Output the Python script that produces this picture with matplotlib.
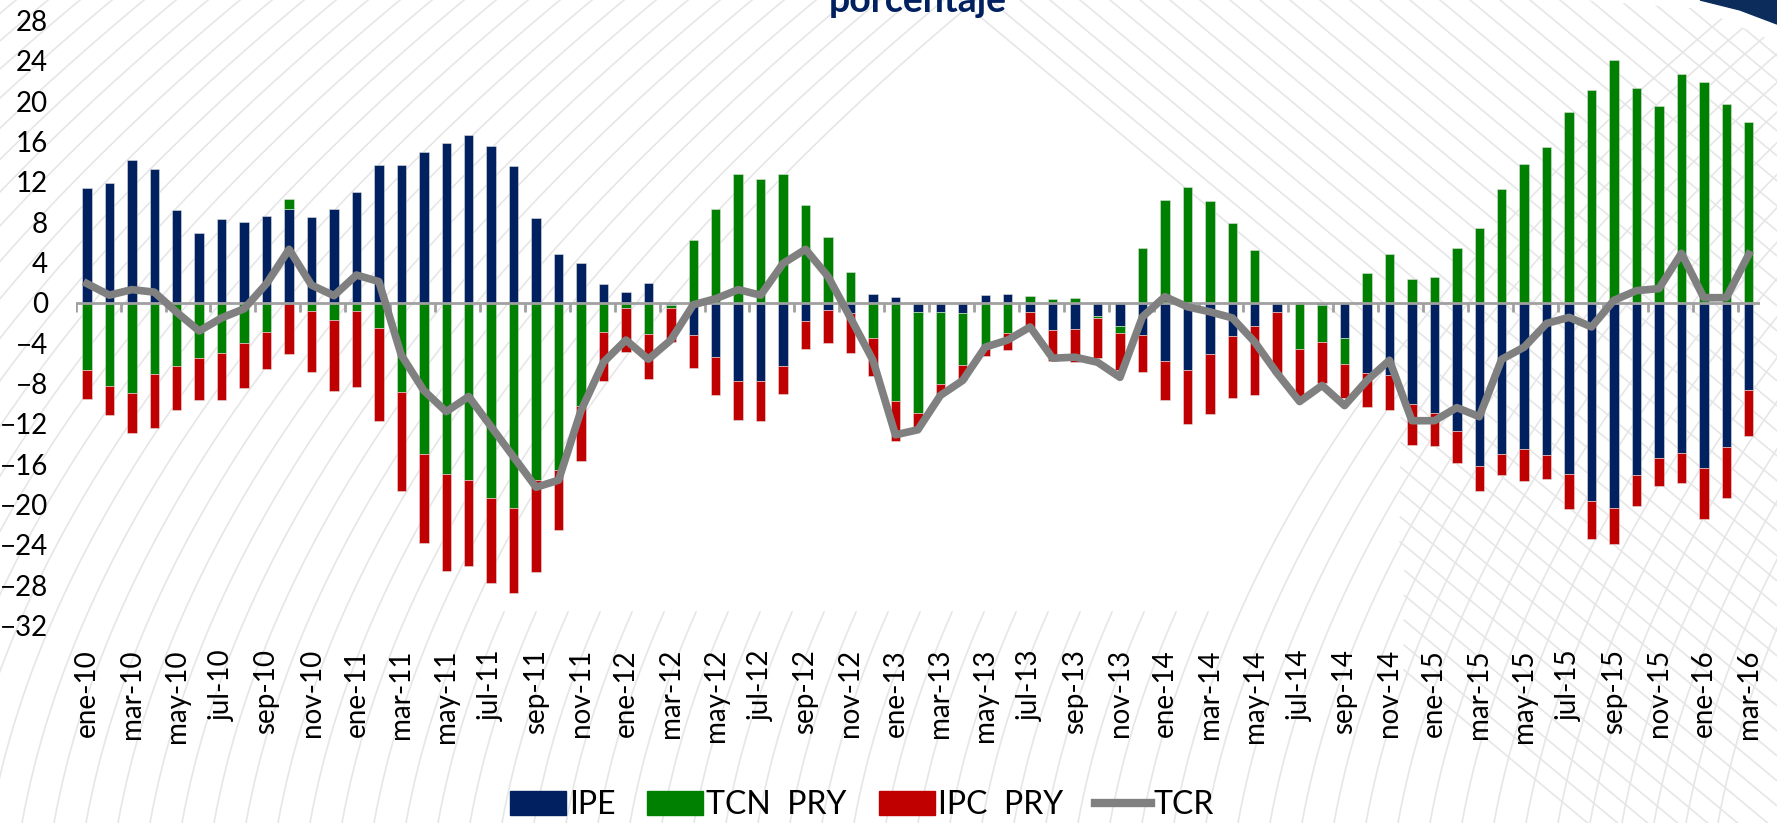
import numpy as np
import matplotlib.pyplot as plt
from matplotlib.lines import Line2D
from matplotlib.patches import Patch, Polygon

plt.rcParams['font.family'] = ['Lato', 'DejaVu Sans']

# meses ene-10 .. mar-16
meses_abr = ['ene', 'feb', 'mar', 'abr', 'may', 'jun', 'jul', 'ago', 'sep', 'oct', 'nov', 'dic']
months = [f"{m}-{y}" for y in range(10, 17) for m in meses_abr][:75]

# contribuciones (puntos porcentuales)
ipe = [11.36, 11.85, 14.14, 13.31, 9.24, 6.89, 8.28, 8.01, 8.61, 9.30,
       8.51, 9.30, 11.03, 13.68, 13.68, 14.97, 15.89, 16.62, 15.50, 13.54,
       8.44, 4.87, 3.97, 1.89, 1.06, 1.92, -0.20, -3.21, -5.43, -7.78,
       -7.78, -6.29, -1.82, -0.73, -1.06, 0.86, 0.53, -0.96, -0.96, -1.06,
       0.76, 0.86, -0.96, -2.72, -2.65, -1.32, -2.32, -3.21, -5.79, -6.69,
       -5.13, -3.28, -2.28, -0.96, 0.10, -0.23, -3.54, -6.95, -7.19, -10.00,
       -10.93, -12.75, -16.16, -15.03, -14.50, -15.07, -16.95, -19.64, -20.33, -17.05,
       -15.40, -14.90, -16.39, -14.27, -8.61]
tcn_pry = [-6.72, -8.21, -8.94, -7.02, -6.23, -5.46, -5.03, -4.01, -2.88, 0.96,
           -0.86, -1.72, -0.86, -2.55, -8.81, -15.03, -16.95, -17.55, -19.34, -20.33,
           -17.62, -16.56, -10.20, -2.95, -0.56, -3.15, -0.30, 6.23, 9.27, 12.81,
           12.28, 12.78, 9.67, 6.49, 3.05, -3.48, -9.74, -9.94, -7.05, -5.13,
           -4.37, -3.05, 0.66, 0.33, 0.50, -0.24, -0.73, 5.40, 10.20, 11.49,
           10.07, 7.95, 5.23, 0.00, -4.54, -3.71, -2.55, 2.91, 4.80, 2.32,
           2.55, 5.40, 7.45, 11.32, 13.74, 15.43, 18.91, 21.06, 24.04, 21.26,
           19.54, 22.68, 21.85, 19.70, 17.91]
ipc_pry = [-2.78, -2.95, -4.01, -5.36, -4.40, -4.21, -4.64, -4.43, -3.74, -5.10,
           -5.96, -6.99, -7.52, -9.14, -9.83, -8.78, -9.67, -8.51, -8.41, -8.48,
           -9.04, -5.96, -5.50, -4.83, -4.30, -4.37, -3.40, -3.31, -3.68, -3.84,
           -3.94, -2.75, -2.72, -3.31, -3.97, -3.80, -4.00, -1.43, -1.10, -1.49,
           -0.93, -1.65, -1.42, -3.07, -3.21, -3.97, -3.64, -3.64, -3.88, -5.30,
           -5.93, -6.16, -6.83, -6.00, -4.80, -4.06, -3.40, -3.38, -3.47, -4.07,
           -3.31, -3.14, -2.55, -2.06, -3.18, -2.45, -3.55, -3.77, -3.64, -3.12,
           -2.81, -2.98, -5.03, -5.07, -4.60]
tcr = [1.90, 0.75, 1.30, 1.05, -0.95, -2.80, -1.50, -0.60, 1.90, 5.30,
       1.75, 0.70, 2.75, 2.10, -5.20, -8.70, -10.80, -9.30, -12.30, -15.30,
       -18.30, -17.60, -10.70, -5.90, -3.70, -5.60, -3.70, -0.20, 0.40, 1.30,
       0.75, 3.90, 5.30, 2.60, -1.50, -5.70, -13.10, -12.60, -9.20, -7.70,
       -4.40, -3.70, -2.40, -5.50, -5.40, -5.90, -7.40, -1.40, 0.60, -0.40,
       -0.90, -1.50, -3.90, -7.00, -9.80, -8.20, -10.20, -7.70, -5.70, -11.70,
       -11.70, -10.40, -11.30, -5.60, -4.40, -2.05, -1.45, -2.40, 0.25, 1.20,
       1.40, 4.90, 0.50, 0.50, 4.80]

series = [("IPE", ipe, "#002060"), ("TCN  PRY", tcn_pry, "#008000"), ("IPC  PRY", ipc_pry, "#C00000")]

W, H = 1777, 823
fig = plt.figure(figsize=(W / 100, H / 100), dpi=100)


def px(x, y):
    return np.asarray(x) / W, 1 - np.asarray(y) / H


# fondo decorativo: lineas tenues
deco = dict(color="#e6e6e6", lw=1.2, zorder=0)
yy = np.linspace(0, H, 200)
t = (H - yy) / H
for x0 in range(-650, 1750, 32):
    xx = x0 + 150 * t + 420 * t ** 2
    keep = np.ones_like(xx, dtype=bool)
    if 430 < x0 < 1150:
        keep = yy > 610
    xs, ys = px(np.where(keep, xx, np.nan), yy)
    fig.add_artist(Line2D(xs, ys, transform=fig.transFigure, **deco))
for x0 in range(600, 1800, 30):
    xx = x0 + 1.2 * yy
    keep = np.ones_like(xx, dtype=bool)
    if x0 < 950:
        keep = xx > 1400
    xs, ys = px(np.where(keep, xx, np.nan), yy)
    fig.add_artist(Line2D(xs, ys, transform=fig.transFigure, **deco))

# esquina superior derecha
fig.add_artist(Polygon(np.column_stack(px([1590, 1777, 1777, 1700], [0, 0, 42, 8])),
                       closed=True, transform=fig.transFigure, color="white", zorder=0.5))
fig.add_artist(Polygon(np.column_stack(px([1700, 1777, 1777, 1740], [0, 0, 24, 10])),
                       closed=True, transform=fig.transFigure, color="#0c2d5c", zorder=0.6))

ax = fig.add_axes([75.7 / W, 1 - 625.4 / H, (1760 - 75.7) / W, 605 / H])
ax.patch.set_alpha(0)

x = np.arange(len(months))
pos_base = np.zeros(len(x))
neg_base = np.zeros(len(x))
for name, vals, color in series:
    v = np.array(vals)
    bottom = np.where(v >= 0, pos_base, neg_base)
    ax.bar(x, v, 0.42, bottom=bottom, color=color, edgecolor="#e0e0e0", linewidth=0.4, zorder=2)
    pos_base += np.clip(v, 0, None)
    neg_base += np.clip(v, None, 0)

ax.axhline(0, color="#a0a0a0", lw=2, zorder=2.5)
ax.vlines(np.arange(-0.5, len(x), 2), -0.9, 0, color="#a0a0a0", lw=2, zorder=2.5)
ax.plot(x, tcr, color="#808080", lw=5.5, zorder=3)

ax.set_xlim(-0.5, len(x) - 0.5)
ax.set_ylim(-32, 28)
ax.set_yticks(range(-32, 29, 4))
ax.set_xticks(x[::2])
ax.set_xticklabels(months[::2], rotation=90)
ax.tick_params(axis="x", length=0, pad=17, labelsize=20)
ax.tick_params(axis="y", length=0, pad=20, labelsize=20)
for s in ax.spines.values():
    s.set_visible(False)

fig.text(918 / W, 1 - 12 / H, "porcentaje", ha="center", va="baseline",
         fontsize=27, fontweight="bold", color="#002060")

handles = [Patch(color=c) for _, _, c in series] + [Line2D([], [], color="#808080", lw=6)]
labels = [n for n, _, _ in series] + ["TCR"]
fig.legend(handles, labels, loc="center", bbox_to_anchor=(862 / W, 1 - 805 / H), ncol=4,
           frameon=False, fontsize=23, handlelength=1.75, handleheight=0.75,
           handletextpad=0.1, columnspacing=1.0)

fig.savefig("out.png", dpi=100)
